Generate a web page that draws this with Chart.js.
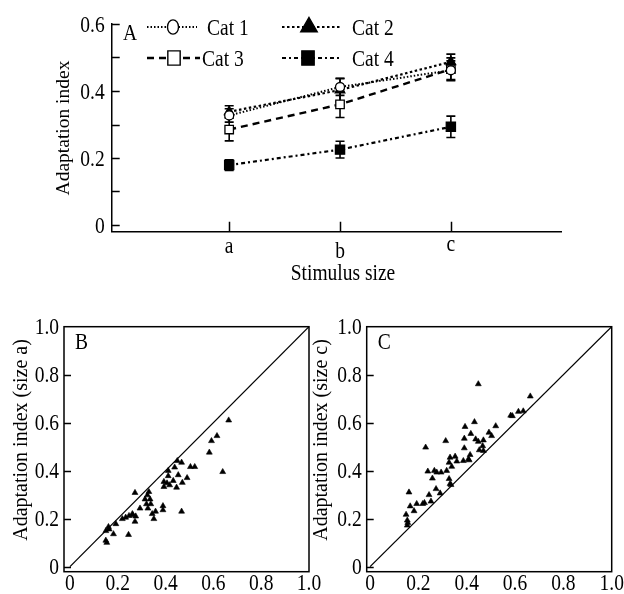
<!DOCTYPE html>
<html>
<head>
<meta charset="utf-8">
<title>Adaptation index</title>
<script src="https://cdn.jsdelivr.net/npm/chart.js@4.4.1/dist/chart.umd.min.js"></script>
<style>
  html, body { margin: 0; padding: 0; background: #fff; }
  #wrap { position: relative; width: 624px; height: 594px; overflow: hidden; }
  .box { position: absolute; }
</style>
</head>
<body>
<div id="wrap">
  <div class="box" style="left:0;top:0;width:624px;height:290px"><canvas id="chartA"></canvas></div>
  <div class="box" style="left:0;top:300px;width:330px;height:294px"><canvas id="chartB"></canvas></div>
  <div class="box" style="left:300px;top:300px;width:324px;height:294px"><canvas id="chartC"></canvas></div>
</div>
<script>
  // Panel A: mean adaptation index per stimulus size, by category
  const sizeLabels = ['a', 'b', 'c'];
  const sizePos = [1, 2, 3];
  const catNames = ['Cat 1', 'Cat 2', 'Cat 3', 'Cat 4'];
  const cat1Mean = [0.327, 0.412, 0.462];
  const cat1Err = [0.02, 0.025, 0.028];
  const cat2Mean = [0.338, 0.403, 0.487];
  const cat2Err = [0.018, 0.035, 0.023];
  const cat3Mean = [0.285, 0.36, 0.465];
  const cat3Err = [0.034, 0.039, 0.034];
  const cat4Mean = [0.179, 0.225, 0.293];
  const cat4Err = [0.016, 0.025, 0.032];
  const aTicks = [0, 0.2, 0.4, 0.6];
  const aMinorTicks = [0, 0.1, 0.2, 0.3, 0.4, 0.5, 0.6];

  // Panels B and C: per-cell scatter
  const bX = [0.664, 0.615, 0.592, 0.583, 0.639, 0.522, 0.504, 0.467, 0.449, 0.438, 0.411, 0.453, 0.49, 0.47,
    0.432, 0.411, 0.393, 0.417, 0.393, 0.446, 0.406, 0.272, 0.33, 0.324, 0.314, 0.335, 0.32, 0.338, 0.293, 0.326,
    0.358, 0.344, 0.351, 0.389, 0.389, 0.467, 0.261, 0.247, 0.233, 0.219, 0.275, 0.272, 0.263, 0.192, 0.164,
    0.161, 0.15, 0.182, 0.245, 0.15, 0.154];
  const bY = [0.61, 0.545, 0.524, 0.476, 0.395, 0.416, 0.416, 0.434, 0.441, 0.414, 0.40, 0.382, 0.37, 0.35,
    0.358, 0.378, 0.354, 0.34, 0.333, 0.33, 0.348, 0.308, 0.312, 0.298, 0.281, 0.281, 0.261, 0.261, 0.243, 0.243,
    0.23, 0.22, 0.199, 0.253, 0.236, 0.23, 0.22, 0.212, 0.205, 0.199, 0.21, 0.188, 0.215, 0.178, 0.156,
    0.166, 0.149, 0.136, 0.133, 0.109, 0.1];
  const cX = [0.448, 0.663, 0.634, 0.614, 0.582, 0.589, 0.52, 0.393, 0.432, 0.492, 0.503, 0.417, 0.39, 0.437,
    0.448, 0.469, 0.39, 0.452, 0.466, 0.469, 0.313, 0.23, 0.331, 0.352, 0.359, 0.327, 0.338, 0.386, 0.407, 0.414,
    0.41, 0.239, 0.266, 0.276, 0.258, 0.294, 0.317, 0.273, 0.29, 0.327, 0.331, 0.335, 0.161, 0.244, 0.252,
    0.166, 0.193, 0.218, 0.225, 0.182, 0.149, 0.154, 0.156, 0.154];
  const cY = [0.761, 0.71, 0.648, 0.646, 0.63, 0.628, 0.586, 0.583, 0.603, 0.559, 0.545, 0.554, 0.534, 0.531,
    0.521, 0.527, 0.494, 0.486, 0.503, 0.483, 0.524, 0.497, 0.455, 0.459, 0.439, 0.434, 0.417, 0.441, 0.448, 0.466,
    0.444, 0.397, 0.40, 0.393, 0.368, 0.393, 0.40, 0.324, 0.306, 0.366, 0.345, 0.341, 0.31, 0.299, 0.272,
    0.252, 0.262, 0.262, 0.266, 0.232, 0.217, 0.193, 0.183, 0.172];
  const scatterTicks = [0, 0.2, 0.4, 0.6, 0.8, 1.0];
  const scatterInnerTicks = [0, 0.2, 0.4, 0.6, 0.8];

  const serif = '"Liberation Serif", "Times New Roman", serif';
  const STRETCH = 1.15; // the original lettering is a bit taller than Times
  Chart.defaults.font.family = serif;
  Chart.defaults.font.size = 20;
  Chart.defaults.color = '#000';

  function fmt(v) { return v === 0 ? '0' : v.toFixed(1); }

  // text drawn with a slight vertical stretch; rotated titles are left unstretched
  function sText(ctx, text, x, y, size, align, rot) {
    ctx.save();
    ctx.font = size + 'px ' + serif;
    ctx.fillStyle = '#000';
    ctx.textAlign = align || 'center';
    ctx.translate(x, y);
    if (rot) {
      ctx.rotate(rot);
      ctx.textBaseline = 'middle';
    } else {
      ctx.scale(1, STRETCH);
      ctx.textBaseline = 'alphabetic';
    }
    ctx.fillText(text, 0, 0);
    ctx.restore();
  }

  function drawMarker(ctx, style, x, y, r, filled) {
    ctx.beginPath();
    if (style === 'circle') {
      ctx.ellipse(x, y, r * 0.85, r * 1.1, 0, 0, Math.PI * 2);
    } else if (style === 'triangle') {
      ctx.moveTo(x, y - r);
      ctx.lineTo(x + r * 0.866, y + r * 0.5);
      ctx.lineTo(x - r * 0.866, y + r * 0.5);
      ctx.closePath();
    } else {
      ctx.rect(x - r * 0.95, y - r * 1.1, r * 1.9, r * 2.2);
    }
    ctx.fillStyle = filled ? '#000' : '#fff';
    ctx.fill();
    ctx.setLineDash([]);
    ctx.lineWidth = 1.4;
    ctx.strokeStyle = '#000';
    ctx.stroke();
  }

  // error bars drawn under the lines and markers
  const errorBars = {
    id: 'errorBars',
    beforeDatasetsDraw(chart) {
      const { ctx, scales: { x, y } } = chart;
      ctx.save();
      ctx.strokeStyle = '#000';
      ctx.lineWidth = 1.6;
      chart.data.datasets.forEach(ds => {
        if (!ds.errors) return;
        ds.data.forEach((p, i) => {
          const px = x.getPixelForValue(p.x);
          const top = y.getPixelForValue(p.y + ds.errors[i]);
          const bot = y.getPixelForValue(p.y - ds.errors[i]);
          ctx.beginPath();
          ctx.moveTo(px, top); ctx.lineTo(px, bot);
          ctx.moveTo(px - 4.5, top); ctx.lineTo(px + 4.5, top);
          ctx.moveTo(px - 4.5, bot); ctx.lineTo(px + 4.5, bot);
          ctx.stroke();
        });
      });
      ctx.restore();
    }
  };

  // tick marks pointing into the plot
  const innerTicks = {
    id: 'innerTicks',
    afterDraw(chart, args, opts) {
      const { ctx, chartArea: ca, scales } = chart;
      ctx.save();
      ctx.strokeStyle = '#000';
      ctx.lineWidth = 1.5;
      ctx.beginPath();
      (opts.y || []).forEach(v => {
        const py = Math.round(scales.y.getPixelForValue(v)) + 0.5;
        ctx.moveTo(ca.left, py); ctx.lineTo(ca.left + opts.yLen, py);
      });
      (opts.x || []).forEach(v => {
        const px = Math.round(scales.x.getPixelForValue(v)) + 0.5;
        ctx.moveTo(px, ca.bottom); ctx.lineTo(px, ca.bottom - opts.xLen);
      });
      ctx.stroke();
      ctx.restore();
    }
  };

  // tick labels taken from the scales' own ticks
  const tickText = {
    id: 'tickText',
    afterDraw(chart, args, opts) {
      const { ctx, chartArea: ca, scales: { x, y } } = chart;
      y.ticks.forEach(t => {
        sText(ctx, fmt(t.value), ca.left - opts.yPad, y.getPixelForValue(t.value) + opts.yDy, opts.size, 'right');
      });
      x.ticks.forEach((t, i) => {
        const base = opts.xBase[i] !== undefined ? opts.xBase[i] : opts.xBase[0];
        sText(ctx, opts.xText(t.value), x.getPixelForValue(t.value), base, opts.size, 'center');
      });
    }
  };

  const frame = {
    id: 'frame',
    afterDraw(chart, args, opts) {
      if (!opts.show) return;
      const { ctx, chartArea: ca } = chart;
      ctx.save();
      ctx.strokeStyle = '#000';
      ctx.lineWidth = 1.5;
      ctx.strokeRect(ca.left, ca.top, ca.right - ca.left, ca.bottom - ca.top);
      ctx.restore();
    }
  };

  // free text: panel letters and axis titles
  const texts = {
    id: 'texts',
    afterDraw(chart, args, opts) {
      (opts.items || []).forEach(t => sText(chart.ctx, t.text, t.x, t.y, t.size, 'center', t.rot));
    }
  };

  // legend with line sample + marker, 2x2 inside panel A
  const lineLegend = {
    id: 'lineLegend',
    afterDraw(chart, args, opts) {
      const ctx = chart.ctx;
      chart.data.datasets.forEach((ds, i) => {
        const it = opts.items[i];
        ctx.save();
        ctx.strokeStyle = '#000';
        ctx.lineWidth = ds.borderWidth;
        ctx.setLineDash(ds.borderDash || []);
        ctx.beginPath();
        ctx.moveTo(it.x0, it.y); ctx.lineTo(it.x1, it.y);
        ctx.stroke();
        drawMarker(ctx, ds.pointStyle, it.m, it.y, it.r, ds.pointBackgroundColor === '#000');
        ctx.restore();
        sText(ctx, ds.label, it.tx, it.y + 8, 19.5, 'left');
      });
    }
  };

  function series(means) {
    return sizePos.map((x, i) => ({ x: x, y: means[i] }));
  }

  function catDataset(i, means, errs, style, filled, dash, width, radius) {
    return {
      label: catNames[i],
      data: series(means),
      errors: errs,
      borderColor: '#000',
      borderWidth: width,
      borderDash: dash,
      pointStyle: style,
      pointRadius: radius,
      pointBackgroundColor: filled ? '#000' : '#fff',
      pointBorderColor: '#000',
      pointBorderWidth: 1.3,
      tension: 0
    };
  }

  new Chart(document.getElementById('chartA'), {
    type: 'line',
    data: {
      datasets: [
        catDataset(0, cat1Mean, cat1Err, 'circle', false, [1.5, 2], 2, 4.5),
        catDataset(1, cat2Mean, cat2Err, 'triangle', true, [2.5, 2.5], 2.2, 5.5),
        catDataset(2, cat3Mean, cat3Err, 'rect', false, [7, 5], 2.4, 6),
        catDataset(3, cat4Mean, cat4Err, 'rect', true, [4, 3, 2, 3], 2.2, 6.5)
      ]
    },
    options: {
      responsive: true,
      maintainAspectRatio: false,
      animation: false,
      layout: { padding: { left: 0, right: 62.3, top: 24, bottom: 0 } },
      scales: {
        x: {
          type: 'linear',
          min: -0.06,
          max: 4,
          afterBuildTicks: s => { s.ticks = sizePos.map(v => ({ value: v })); },
          afterFit: s => { s.height = 58.3; },
          ticks: { display: false },
          grid: { display: false, drawTicks: false },
          border: { display: true, color: '#000', width: 1.5 }
        },
        y: {
          min: -0.02,
          max: 0.6,
          afterBuildTicks: s => { s.ticks = aTicks.map(v => ({ value: v })); },
          afterFit: s => { s.width = 111.7; },
          ticks: { display: false },
          grid: { display: false, drawTicks: false },
          border: { display: true, color: '#000', width: 1.5 }
        }
      },
      plugins: {
        legend: { display: false },
        tooltip: { enabled: false },
        innerTicks: { y: aMinorTicks, yLen: 8, x: sizePos, xLen: 10 },
        tickText: {
          size: 19.5, yPad: 7, yDy: 7.5,
          xBase: [253, 258, 251],
          xText: v => sizeLabels[sizePos.indexOf(v)] || ''
        },
        lineLegend: {
          items: [
            { x0: 147, x1: 197, m: 173, tx: 207, y: 27, r: 6.5 },
            { x0: 282, x1: 340, m: 309, tx: 352, y: 27, r: 9.5 },
            { x0: 147, x1: 200, m: 174, tx: 202, y: 58, r: 6.5 },
            { x0: 282, x1: 340, m: 308, tx: 352, y: 58, r: 6.5 }
          ]
        },
        texts: {
          items: [
            { text: 'A', x: 130, y: 40, size: 19.5 },
            { text: 'Adaptation index', x: 64, y: 128, size: 19.5, rot: -Math.PI / 2 },
            { text: 'Stimulus size', x: 343, y: 280, size: 19.5 }
          ]
        }
      }
    },
    plugins: [errorBars, innerTicks, tickText, lineLegend, texts]
  });

  function scatterChart(id, xs, ys, leftW, rightPad, xMin, letter, title) {
    return new Chart(document.getElementById(id), {
      type: 'scatter',
      data: {
        datasets: [
          {
            data: xs.map((x, i) => ({ x: x, y: ys[i] })),
            pointStyle: 'triangle',
            pointRadius: 3.4,
            backgroundColor: '#000',
            borderColor: '#000',
            borderWidth: 0.6
          },
          {
            type: 'line',
            data: [{ x: 0, y: 0 }, { x: 1, y: 1 }],
            borderColor: '#000',
            borderWidth: 1.3,
            pointRadius: 0
          }
        ]
      },
      options: {
        responsive: true,
        maintainAspectRatio: false,
        animation: false,
        layout: { padding: { left: 0, right: rightPad, top: 26.7, bottom: 0 } },
        scales: {
          x: {
            type: 'linear',
            min: xMin,
            max: 1,
            afterBuildTicks: s => { s.ticks = scatterTicks.map(v => ({ value: v })); },
            afterFit: s => { s.height = 22.3; },
            ticks: { display: false },
            grid: { display: false, drawTicks: false },
            border: { display: false }
          },
          y: {
            min: -0.021,
            max: 1,
            afterBuildTicks: s => { s.ticks = scatterTicks.map(v => ({ value: v })); },
            afterFit: s => { s.width = leftW; },
            ticks: { display: false },
            grid: { display: false, drawTicks: false },
            border: { display: false }
          }
        },
        plugins: {
          legend: { display: false },
          tooltip: { enabled: false },
          frame: { show: true },
          innerTicks: { y: scatterInnerTicks, yLen: 7 },
          tickText: { size: 19.5, yPad: 5, yDy: 7.5, xBase: [290], xText: v => fmt(v) },
          texts: {
            items: [
              { text: letter, x: leftW + 17.5, y: 48.5, size: 19.5 },
              { text: title, x: 21.7, y: 140, size: 20, rot: -Math.PI / 2 }
            ]
          }
        }
      },
      plugins: [frame, innerTicks, tickText, texts]
    });
  }

  scatterChart('chartB', bX, bY, 64, 21, -0.025, 'B', 'Adaptation index (size a)');
  scatterChart('chartC', cX, cY, 66.7, 12.3, -0.014, 'C', 'Adaptation index (size c)');
</script>
</body>
</html>
